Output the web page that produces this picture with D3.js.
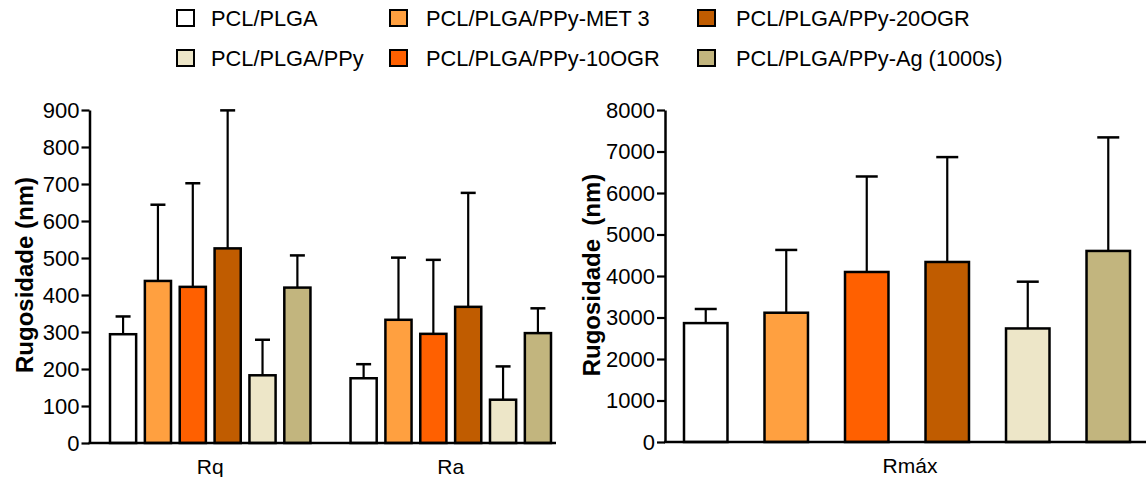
<!DOCTYPE html>
<html><head><meta charset="utf-8">
<script src="https://cdn.jsdelivr.net/npm/d3@7"></script>
<style>
body{margin:0;background:#fff;}
text{font-family:"Liberation Sans",Arial,sans-serif;fill:#000;}
</style></head>
<body><svg id="c" width="1146" height="477"></svg>
<script>
const series = ["PCL/PLGA","PCL/PLGA/PPy","PCL/PLGA/PPy-MET 3","PCL/PLGA/PPy-10OGR","PCL/PLGA/PPy-20OGR","PCL/PLGA/PPy-Ag (1000s)"];
const barOrder = ["PCL/PLGA","PCL/PLGA/PPy-MET 3","PCL/PLGA/PPy-10OGR","PCL/PLGA/PPy-20OGR","PCL/PLGA/PPy","PCL/PLGA/PPy-Ag (1000s)"];
const colors = ["#ffffff","#ede6c8","#ffa040","#ff6000","#c05c00","#c2b57e"];
const leftGroups = ["Rq","Ra"];
const rqMean = [294, 438, 422, 526, 183, 420];
const rqUpper = [342, 644, 702, 899, 279, 507];
const raMean = [175, 333, 295, 368, 117, 297];
const raUpper = [213, 501, 495, 676, 207, 364];
const rightGroup = ["Rmáx"];
const rmaxMean = [2865, 3115, 4097, 4338, 2736, 4604];
const rmaxUpper = [3205, 4628, 6398, 6865, 3863, 7340];
const leftTicks = [0,100,200,300,400,500,600,700,800,900];
const rightTicks = [0,1000,2000,3000,4000,5000,6000,7000,8000];

const svg = d3.select("#c");
const color = d3.scaleOrdinal().domain(series).range(colors);

// ---------- Legend ----------
const legCols = [[0,1],[2,3],[4,5]];
const legX = [176, 389, 697];
const legY = [18, 58];
legCols.forEach((col, ci) => col.forEach((si, ri) => {
  const g = svg.append("g").attr("transform", `translate(${legX[ci]},${legY[ri]})`);
  g.append("rect").attr("x",1).attr("y",-8).attr("width",17).attr("height",16)
    .attr("fill", color(series[si])).attr("stroke","#000").attr("stroke-width",2);
  g.append("text").attr("x", ci===0?35:(ci===1?37:39)).attr("y",8).style("font-size","21.8px").text(series[si]);
}));

function drawAxisY(scale, x, ticks) {
  const ax = d3.axisLeft(scale).tickValues(ticks).tickFormat(d3.format("d")).tickSize(8).tickPadding(2).tickSizeOuter(0);
  const g = svg.append("g").attr("transform", `translate(${x},0)`).call(ax);
  g.select(".domain").attr("stroke","#000").attr("stroke-width",2.5);
  g.selectAll(".tick line").attr("stroke","#000").attr("stroke-width",2.2);
  g.selectAll(".tick text").style("font-size","22px").attr("font-family","Liberation Sans, Arial, sans-serif").attr("fill","#000");
  return g;
}

function drawBars(data, xScale, yScale, capW) {
  const g = svg.append("g");
  data.forEach(d => {
    const cx = xScale(d.s) + xScale.bandwidth()/2;
    g.append("line").attr("x1",cx).attr("x2",cx).attr("y1",yScale(d.m)).attr("y2",yScale(d.u))
      .attr("stroke","#000").attr("stroke-width",2.2);
    g.append("line").attr("x1",cx-capW/2).attr("x2",cx+capW/2).attr("y1",yScale(d.u)).attr("y2",yScale(d.u))
      .attr("stroke","#000").attr("stroke-width",2.5);
  });
  g.selectAll("rect").data(data).join("rect")
    .attr("x", d => xScale(d.s)).attr("width", xScale.bandwidth())
    .attr("y", d => yScale(d.m)).attr("height", d => yScale(0) - yScale(d.m))
    .attr("fill", d => color(d.s)).attr("stroke","#000").attr("stroke-width",2.5);
}

// ---------- Left chart ----------
const yL = d3.scaleLinear().domain([0,900]).range([443,110]);
const x0 = d3.scaleBand().domain(leftGroups).range([110,551]).paddingInner(40/240).paddingOuter(0);
const leftData = [rqMean, raMean];
const leftUp = [rqUpper, raUpper];
leftGroups.forEach((grp, gi) => {
  const x1 = d3.scaleBand().domain(barOrder).range([x0(grp), x0(grp)+x0.bandwidth()]).paddingInner(0.25).paddingOuter(0);
  const data = barOrder.map((s,i) => ({s, m: leftData[gi][i], u: leftUp[gi][i]}));
  drawBars(data, x1, yL, 15);
});
drawAxisY(yL, 89.5, leftTicks);
svg.append("line").attr("x1",88.5).attr("x2",556).attr("y1",yL(0)).attr("y2",yL(0)).attr("stroke","#000").attr("stroke-width",2.5);
leftGroups.forEach(grp => {
  svg.append("text").attr("x", x0(grp)+x0.bandwidth()/2).attr("y",474).attr("text-anchor","middle")
    .style("font-size","21px").text(grp);
});
svg.append("text").attr("transform","translate(33,275) rotate(-90)").attr("text-anchor","middle")
  .style("font-size","24px").style("font-weight","bold").text("Rugosidade (nm)");

// ---------- Right chart ----------
const yR = d3.scaleLinear().domain([0,8000]).range([442,110]);
const xR = d3.scaleBand().domain(barOrder).range([684,1130]).paddingInner(0.46).paddingOuter(0);
const rData = barOrder.map((s,i) => ({s, m: rmaxMean[i], u: rmaxUpper[i]}));
drawBars(rData, xR, yR, 22);
drawAxisY(yR, 665, rightTicks);
svg.append("line").attr("x1",664).attr("x2",1146).attr("y1",yR(0)).attr("y2",yR(0)).attr("stroke","#000").attr("stroke-width",2.5);
svg.append("text").attr("x", 910).attr("y",473).attr("text-anchor","middle").style("font-size","21px").text(rightGroup[0]);
svg.append("text").attr("transform","translate(600,275) rotate(-90)").attr("text-anchor","middle")
  .style("font-size","24px").style("font-weight","bold").style("white-space","pre").text("Rugosidade  (nm)");
</script></body></html>
